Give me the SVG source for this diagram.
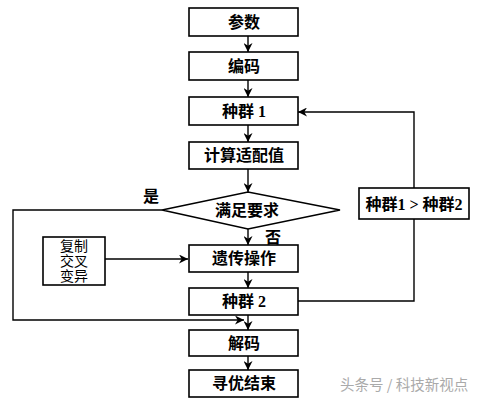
<svg xmlns="http://www.w3.org/2000/svg" width="483" height="400" viewBox="0 0 483 400">
<style>
.box{fill:#fff;stroke:#000;stroke-width:1.6}
.ln{fill:none;stroke:#000;stroke-width:1.4}
.t{font-family:"Liberation Serif","Noto Sans CJK SC",serif;font-size:16px;font-weight:bold;text-anchor:middle;dominant-baseline:central;fill:#000}
.r{font-weight:normal;font-size:14px}
.wm{font-family:"Noto Sans CJK SC",sans-serif;font-size:14.5px;fill:#aaa}
</style>
<defs>
<marker id="ah" viewBox="0 0 10 10" refX="10" refY="5" markerWidth="9" markerHeight="9" markerUnits="userSpaceOnUse" orient="auto">
<path d="M0,0 L10,5 L0,10 L3,5 Z" fill="#000"/>
</marker>
</defs>
<rect width="483" height="400" fill="#fff"/>
<g id="connectors">
<line class="ln" x1="248" y1="36" x2="248" y2="52" marker-end="url(#ah)"/>
<line class="ln" x1="248" y1="80" x2="248" y2="97" marker-end="url(#ah)"/>
<line class="ln" x1="248" y1="125" x2="248" y2="142" marker-end="url(#ah)"/>
<line class="ln" x1="248" y1="169" x2="248" y2="192" marker-end="url(#ah)"/>
<line class="ln" x1="248" y1="229" x2="248" y2="245" marker-end="url(#ah)"/>
<line class="ln" x1="248" y1="272" x2="248" y2="288" marker-end="url(#ah)"/>
<line class="ln" x1="248" y1="315" x2="248" y2="330" marker-end="url(#ah)"/>
<line class="ln" x1="248" y1="356" x2="248" y2="370" marker-end="url(#ah)"/>
<polyline class="ln" points="162,210 13,210 13,320 244,320" marker-end="url(#ah)"/>
<line class="ln" x1="105" y1="259" x2="188" y2="259" marker-end="url(#ah)"/>
<polyline class="ln" points="414,188 414,112 298,112" marker-end="url(#ah)"/>
<polyline class="ln" points="414,219 414,301 298,301"/>
</g>
<g id="n_canshu"><rect class="box" x="189" y="8" width="109" height="28"/><text class="t" x="244" y="22">参数</text></g>
<g id="n_bianma"><rect class="box" x="189" y="52" width="109" height="28"/><text class="t" x="244" y="66">编码</text></g>
<g id="n_zq1"><rect class="box" x="189" y="97" width="109" height="28"/><text class="t" x="244" y="111">种群 1</text></g>
<g id="n_jisuan"><rect class="box" x="189" y="142" width="109" height="27"/><text class="t" x="244" y="155.5">计算适配值</text></g>
<g id="n_cond"><polygon class="box" points="162,210 248,192 340,210 248,229"/><text class="t" x="247" y="210.5">满足要求</text></g>
<g id="n_yichuan"><rect class="box" x="189" y="245" width="109" height="27"/><text class="t" x="244" y="258.5">遗传操作</text></g>
<g id="n_zq2"><rect class="box" x="189" y="288" width="109" height="27"/><text class="t" x="244" y="301.5">种群 2</text></g>
<g id="n_jiema"><rect class="box" x="189" y="330" width="109" height="26"/><text class="t" x="244" y="343">解码</text></g>
<g id="n_end"><rect class="box" x="189" y="370" width="109" height="27"/><text class="t" x="244" y="383.5">寻优结束</text></g>
<g id="n_ops"><rect class="box" x="43" y="237" width="62" height="48"/>
<text class="t r" x="74" y="246">复制</text><text class="t r" x="74" y="261">交叉</text><text class="t r" x="74" y="276">变异</text></g>
<g id="n_cmp"><rect class="box" x="359" y="188" width="110" height="31"/><text class="t" x="414" y="204">种群1 &gt; 种群2</text></g>
<text class="t" x="151" y="196">是</text>
<text class="t" x="273" y="237">否</text>
<text class="wm" x="340" y="390">头条号 / 科技新视点</text>
</svg>
